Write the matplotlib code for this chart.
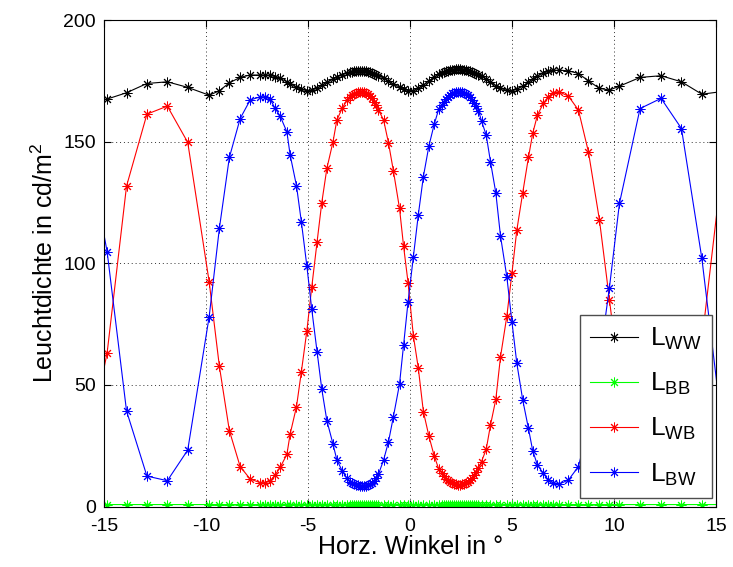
import matplotlib
matplotlib.use('Agg')
import matplotlib.pyplot as plt

plt.rcParams.update({
    'font.family': ['Liberation Sans', 'DejaVu Sans'],
    'font.size': 14,
    'mathtext.default': 'regular',
    'axes.unicode_minus': False,
})

# ── Data ───────────────────────────────────────────────────────────
angle = [-15.85, -14.85, -13.9, -12.9, -11.9, -10.9, -9.85,
         -9.35, -8.86, -8.33, -7.84, -7.35,
         -7.1, -6.86, -6.62, -6.37, -6.04, -5.88, -5.57, -5.33, -5.06,
         -4.82, -4.56, -4.33, -4.08, -3.78, -3.59, -3.33, -3.1,
         -2.95, -2.85, -2.75, -2.65, -2.55, -2.45, -2.35, -2.25, -2.15,
         -2.05, -1.95, -1.85, -1.75, -1.65, -1.55,
         -1.3, -1.06, -0.82, -0.52, -0.32, -0.1, 0.16, 0.4, 0.65, 0.92, 1.18, 1.4,
         1.55, 1.65, 1.75, 1.85, 1.95, 2.05, 2.15, 2.25, 2.35, 2.45,
         2.55, 2.65, 2.75, 2.85, 2.95, 3.05, 3.15, 3.25, 3.35,
         3.5, 3.73, 3.94, 4.2, 4.43, 4.74, 4.99, 5.23, 5.52, 5.8,
         6.01, 6.24, 6.53, 6.78, 7.02, 7.3,
         7.76, 8.25, 8.74, 9.28, 9.77, 10.26,
         11.27, 12.3, 13.3, 14.3, 15.3]

L_ww = [166.0, 167.5, 170.1, 173.9, 174.6, 172.3, 169.1,
        170.9, 174.2, 176.4, 177.4, 177.4,
        177.4, 177.3, 176.7, 176.0, 174.6, 173.8, 172.3, 171.5, 170.9,
        171.2, 172.0, 173.2, 174.4, 175.7, 176.6, 177.5, 178.2,
        178.6, 178.8, 179.0, 179.1, 179.2, 179.2, 179.2, 179.1, 179.0,
        178.8, 178.6, 178.3, 177.9, 177.4, 176.9,
        176.2, 174.9, 173.6, 172.4, 171.8, 171.0, 171.0, 172.0, 173.2, 175.0, 176.6, 177.7,
        178.2, 178.6, 178.9, 179.1, 179.3, 179.5, 179.6, 179.7, 179.7, 179.7,
        179.6, 179.5, 179.4, 179.2, 179.0, 178.7, 178.4, 178.0, 177.6,
        177.0, 175.8, 174.5, 173.0, 171.9, 171.1, 170.9, 171.6, 172.8, 174.4,
        175.8, 177.0, 178.2, 178.9, 179.3, 179.4,
        179.1, 178.0, 175.0, 171.9, 171.2, 172.8,
        176.4, 177.1, 174.6, 169.5, 170.6]

L_bb = [0.8, 0.8, 0.8, 0.8, 0.8, 0.8, 0.8,
        0.8, 0.8, 0.8, 0.8, 0.8,
        0.8, 0.8, 0.8, 0.8, 0.8, 0.8, 0.8, 0.8, 0.8,
        0.8, 0.8, 0.8, 0.8, 0.8, 0.8, 0.8, 0.8,
        0.7, 0.7, 0.7, 0.7, 0.7, 0.7, 0.7, 0.7, 0.7,
        0.7, 0.7, 0.7, 0.7, 0.7, 0.7,
        0.8, 0.8, 0.8, 0.8, 0.8, 0.8, 0.8, 0.8, 0.8, 0.8, 0.8, 0.8,
        0.7, 0.7, 0.7, 0.7, 0.7, 0.7, 0.7, 0.7, 0.7, 0.7,
        0.7, 0.7, 0.7, 0.7, 0.7, 0.7, 0.7, 0.7, 0.7,
        0.8, 0.8, 0.8, 0.8, 0.8, 0.8, 0.8, 0.8, 0.8, 0.8,
        0.8, 0.8, 0.8, 0.8, 0.8, 0.8,
        0.8, 0.8, 0.8, 0.8, 0.8, 0.8,
        0.8, 0.8, 0.8, 0.8, 0.8]

L_wb = [22.0, 63.2, 131.7, 161.3, 164.6, 149.7, 92.4,
        57.7, 31.2, 16.4, 11.3, 9.8,
        9.8, 10.6, 12.9, 16.1, 21.4, 29.8, 41.0, 55.4, 72.3,
        90.3, 108.8, 124.9, 139.0, 149.9, 158.9, 163.7, 167.1,
        168.4, 169.1, 169.7, 170.1, 170.4, 170.5, 170.5, 170.3, 170.0,
        169.5, 168.8, 167.8, 166.5, 164.9, 163.0,
        158.9, 149.5, 138.0, 122.6, 107.0, 92.0, 70.1, 57.0, 39.0, 29.0, 20.8, 15.5,
        13.8, 12.5, 11.5, 10.7, 10.1, 9.6, 9.3, 9.1, 9.0, 9.0,
        9.1, 9.3, 9.6, 10.1, 10.8, 11.7, 12.9, 14.3, 16.0,
        18.5, 23.5, 33.5, 44.0, 61.5, 78.2, 95.8, 113.6, 129.0, 143.5,
        153.4, 160.9, 165.7, 168.5, 170.2, 170.5,
        168.7, 163.0, 145.8, 117.8, 85.0, 52.0,
        17.0, 10.0, 24.0, 68.0, 140.0]

L_bw = [150.0, 104.7, 39.3, 12.5, 10.6, 23.2, 78.0,
        114.3, 143.5, 159.5, 167.1, 168.4,
        168.5, 167.4, 163.7, 160.5, 154.0, 144.5, 131.9, 117.0, 98.8,
        81.0, 63.6, 48.3, 35.3, 25.7, 19.1, 14.7, 11.6,
        10.2, 9.6, 9.2, 8.9, 8.7, 8.6, 8.5, 8.5, 8.6,
        8.8, 9.1, 9.6, 10.4, 11.6, 13.3,
        19.1, 26.6, 36.9, 50.3, 66.4, 84.2, 102.7, 119.8, 135.6, 148.2, 157.1, 163.3,
        165.0, 166.5, 167.6, 168.5, 169.2, 169.8, 170.2, 170.5, 170.6, 170.6,
        170.4, 170.1, 169.6, 169.0, 168.2, 167.2, 166.0, 164.6, 162.8,
        158.5, 152.7, 141.7, 129.0, 111.2, 94.5, 76.0, 58.9, 43.8, 32.1,
        22.9, 17.1, 13.6, 10.9, 9.8, 9.2,
        10.9, 16.4, 33.0, 60.0, 90.0, 124.6,
        163.6, 167.8, 155.4, 102.0, 32.0]

series = [
    (L_ww, 'k', r'$L_{WW}$'),
    (L_bb, '#00ff00', r'$L_{BB}$'),
    (L_wb, '#ff0000', r'$L_{WB}$'),
    (L_bw, '#0000ff', r'$L_{BW}$'),
]

x_ticks = [-15, -10, -5, 0, 5, 10, 15]
y_ticks = [0, 50, 100, 150, 200]

# ── Figure ─────────────────────────────────────────────────────────
fig = plt.figure(figsize=(7.33, 5.67), dpi=100)
ax = fig.add_axes([0.142, 0.1067, 0.835, 0.858])

star = (8, 2, 0)
for vals, col, lab in series:
    ax.plot(angle, vals, color=col, linewidth=0.8, marker=star,
            markersize=7, markeredgewidth=0.7, label=lab)

ax.set_xlim(-15, 15)
ax.set_ylim(0, 200)
ax.set_xticks(x_ticks)
ax.set_yticks(y_ticks)
ax.tick_params(direction='in', top=True, right=True, length=5, width=0.8,
               labelsize=14)
ax.tick_params(axis='x', pad=8)
ax.tick_params(axis='y', pad=6)
ax.grid(True, linestyle=(0, (1, 3)), color='0.2', linewidth=0.7)
for s in ax.spines.values():
    s.set_linewidth(0.8)

ax.set_xlabel('Horz. Winkel in °', fontsize=18, labelpad=0)
ax.set_ylabel('Leuchtdichte in cd/m$^2$', fontsize=18, labelpad=4)

leg = ax.legend(loc='lower right', bbox_to_anchor=(0.993, 0.017), borderaxespad=0,
                fontsize=19, handlelength=1.8, fancybox=False, framealpha=1,
                edgecolor='0.3', borderpad=0.4, labelspacing=0.72, handletextpad=0.45)
leg.get_frame().set_linewidth(1.0)

fig.savefig('out.png', dpi=100)
